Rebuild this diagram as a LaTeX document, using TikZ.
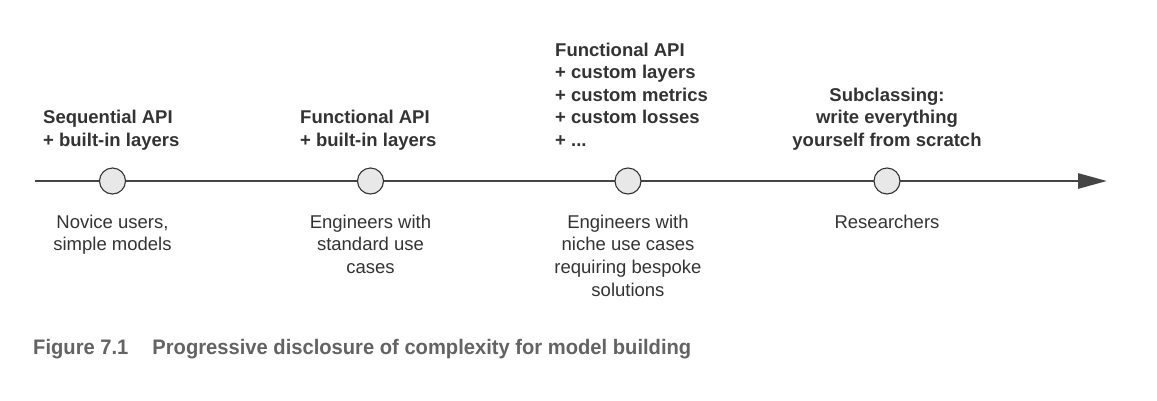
\documentclass[tikz,border=0pt]{standalone}
\usepackage{fontspec}
\setmainfont{Liberation Sans}
\newfontfamily\capfont[FakeStretch=0.96]{Liberation Sans}
\usetikzlibrary{arrows.meta}
\definecolor{linegray}{HTML}{454545}
\definecolor{dotfill}{HTML}{E8E8E8}
\definecolor{txtgray}{HTML}{333333}
\definecolor{capgray}{HTML}{636363}
\tikzset{
  axis/.style={line width=2.8pt, draw=linegray, -{Triangle[length=29pt,width=15pt]}},
  dot/.style={circle, minimum size=26pt, inner sep=0pt, draw=txtgray, line width=1.1pt, fill=dotfill},
  toplab/.style={font=\fontsize{18.5}{22.5}\selectfont\bfseries, text=txtgray, inner sep=0pt},
  botlab/.style={font=\fontsize{18.5}{22.8}\selectfont, text=txtgray, inner sep=0pt, align=center},
  caplab/.style={font=\capfont\fontsize{21}{24}\selectfont\bfseries, text=capgray, inner sep=0pt}
}
\begin{document}
\begin{tikzpicture}[x=1pt,y=-1pt]
\useasboundingbox (0,0) rectangle (1157,400);
\coordinate (start) at (35,181);
\coordinate (end) at (1107,181);
\draw[axis] (start) -- (end);
\node[dot] (c1) at (112.5,181) {};
\node[dot] (c2) at (370.5,181) {};
\node[dot] (c3) at (628,181) {};
\node[dot] (c4) at (887,181) {};
% top labels (anchor base = baseline of the last line)
\node[toplab, align=left, anchor=base west] (t1) at (43,146) {Sequential API\\+ built-in layers};
\node[toplab, align=left, anchor=base west] (t2) at (300,146) {Functional API\\+ built-in layers};
\node[toplab, align=left, anchor=base west] (t3) at (555,146) {Functional API\\+ custom layers\\+ custom metrics\\+ custom losses\\+ ...};
\node[toplab, align=center, anchor=base] (t4) at (887,146) {Subclassing:\\write everything\\yourself from scratch};
% bottom labels
\node[botlab, anchor=base] (b1) at (112.5,250.8) {Novice users,\\simple models};
\node[botlab, anchor=base] (b2) at (370.5,273.6) {Engineers with\\standard use\\cases};
\node[botlab, anchor=base] (b3) at (628,296.4) {Engineers with\\niche use cases\\requiring bespoke\\solutions};
\node[botlab, anchor=base] (b4) at (887,228) {Researchers};
% caption
\node[caplab, anchor=base west] (cap) at (33,354) {Figure 7.1\hspace{24pt}Progressive disclosure of complexity for model building};
\end{tikzpicture}
\end{document}
